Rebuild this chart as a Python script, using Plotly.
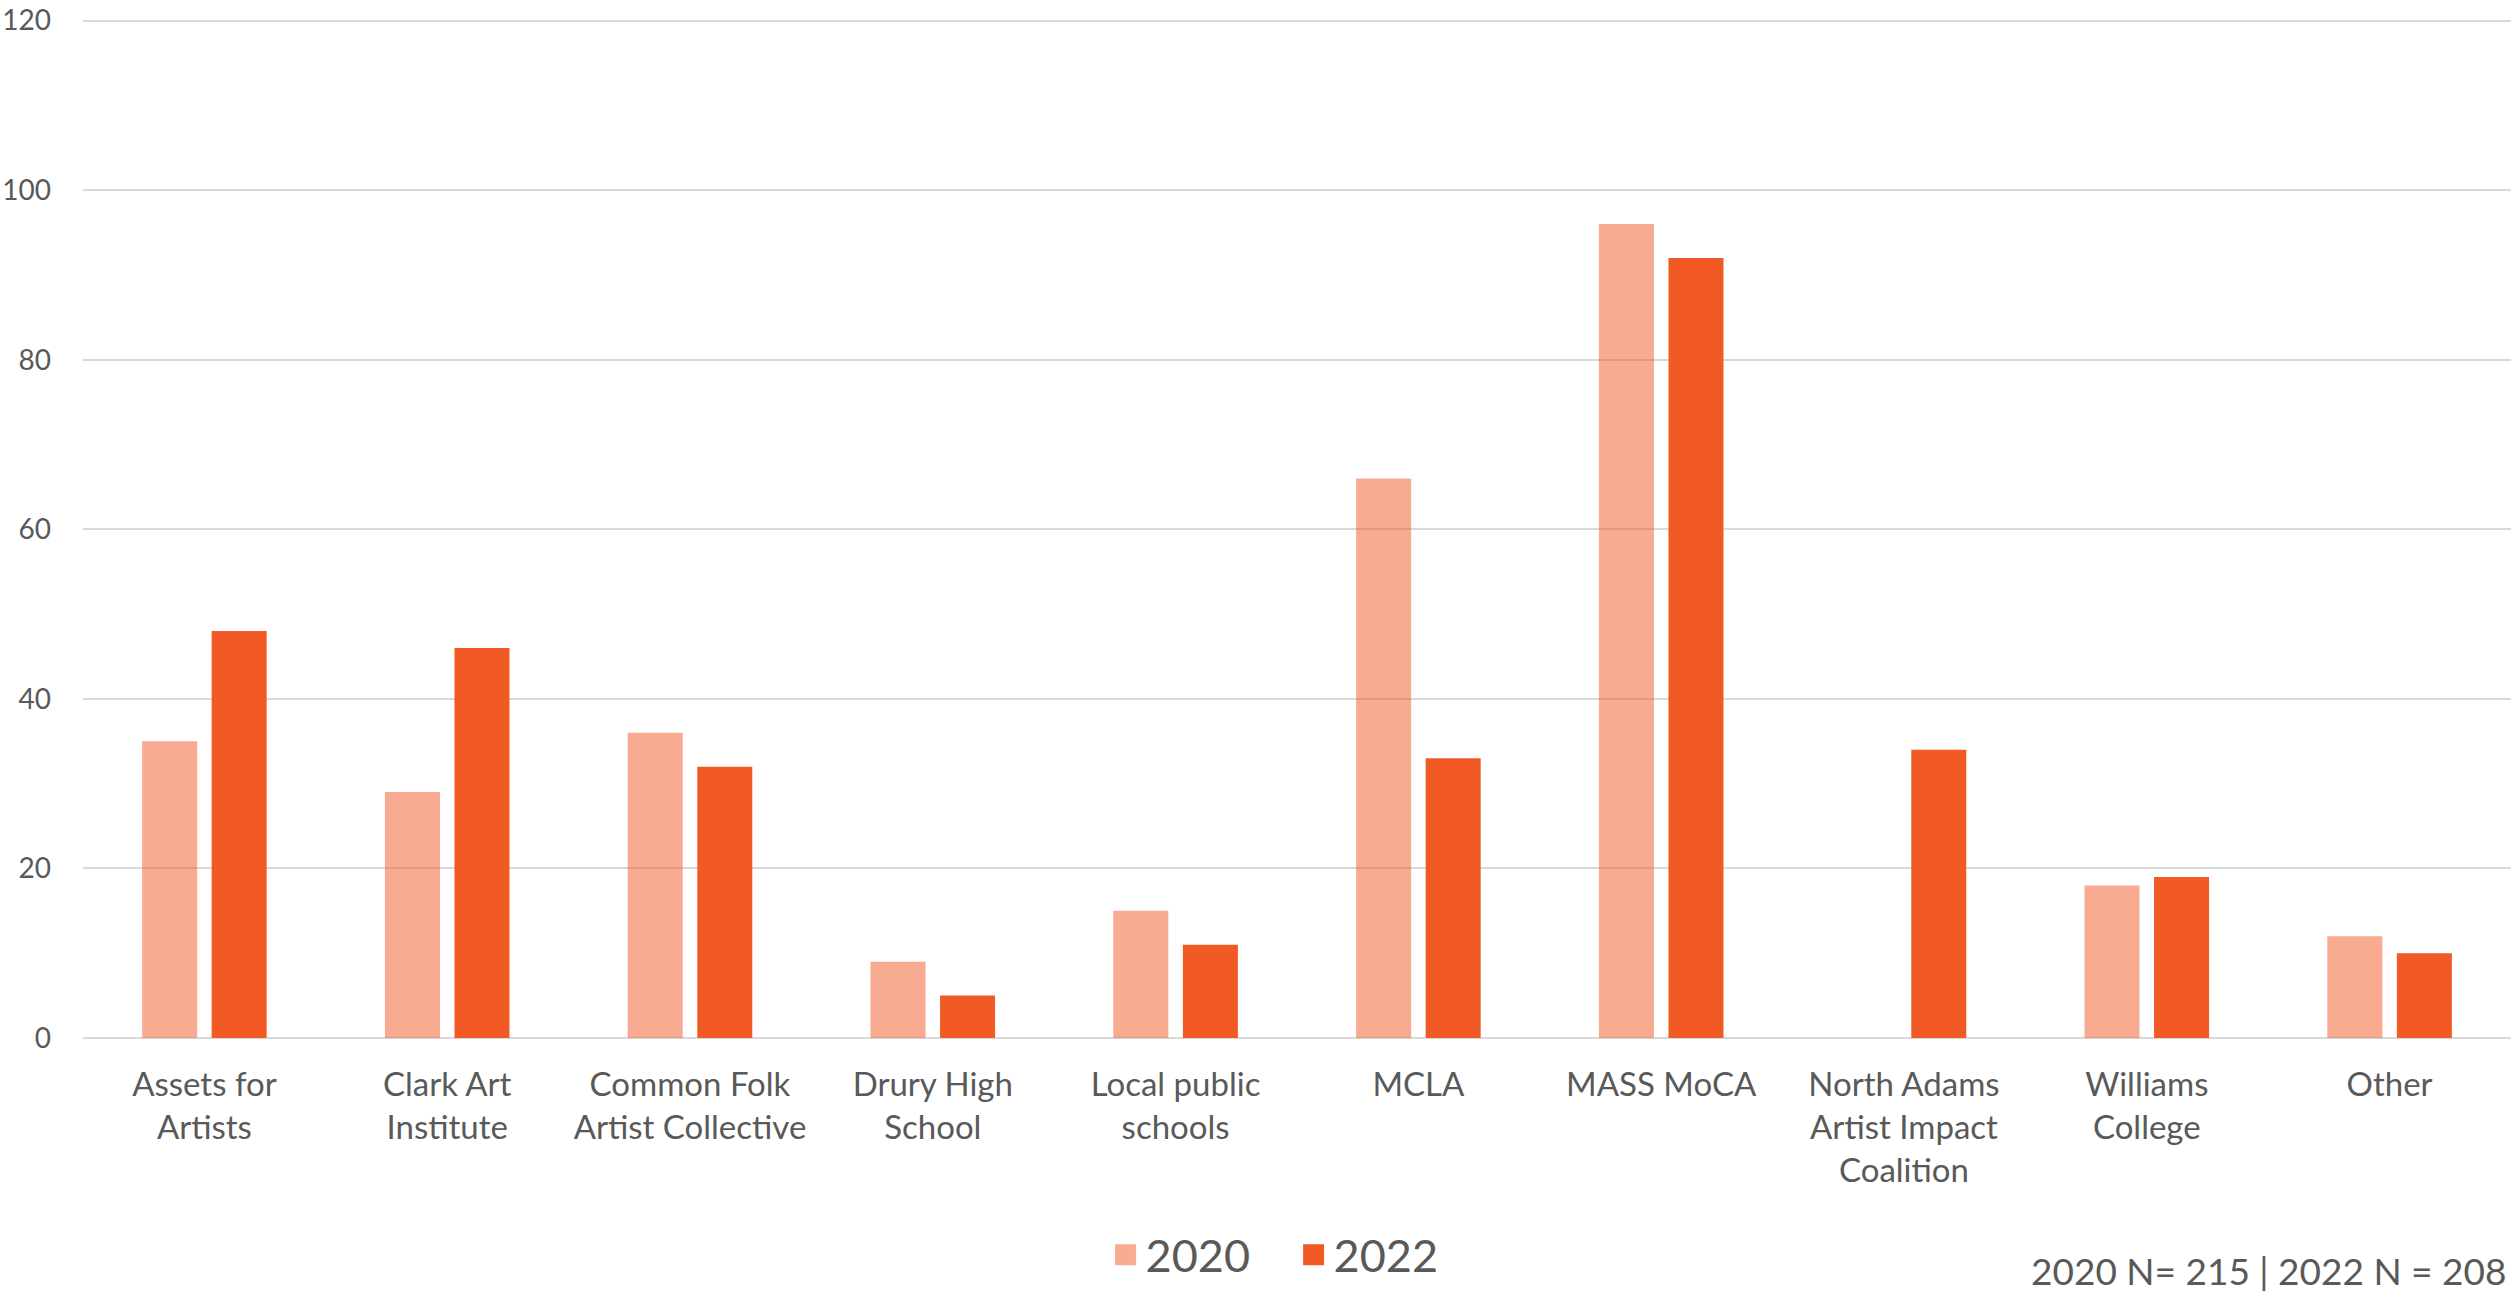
import plotly.graph_objects as go

categories = [
    "Assets for<br>Artists",
    "Clark Art<br>Institute",
    "Common Folk<br>Artist Collective",
    "Drury High<br>School",
    "Local public<br>schools",
    "MCLA",
    "MASS MoCA",
    "North Adams<br>Artist Impact<br>Coalition",
    "Williams<br>College",
    "Other",
]
values_2020 = [35, 29, 36, 9, 15, 66, 96, None, 18, 12]
values_2022 = [48, 46, 32, 5, 11, 33, 92, 34, 19, 10]
series_names = ["2020", "2022"]
y_ticks = [0, 20, 40, 60, 80, 100, 120]
note_text = "2020 N= 215 | 2022 N = 208"

COLOR_2020 = "rgba(241,88,36,0.5)"
COLOR_2022 = "#F15A24"
TEXT = "#595959"
GRID = "#D9D9D9"
FONT = "Lato"

fig = go.Figure()
fig.add_trace(go.Bar(x=categories, y=values_2020, name=series_names[0],
                     marker=dict(color=COLOR_2020, line=dict(width=0)), showlegend=False))
fig.add_trace(go.Bar(x=categories, y=values_2022, name=series_names[1],
                     marker=dict(color=COLOR_2022, line=dict(width=0)), showlegend=False))
# legend entries (larger square symbols)
for nm, col in zip(series_names, ["#F8AC91", COLOR_2022]):
    fig.add_trace(go.Scatter(x=[None], y=[None], mode="markers", name=nm,
                             marker=dict(symbol="square", size=16, color=col,
                                         line=dict(color=col, width=5))))

fig.update_layout(
    width=2519, height=1292,
    paper_bgcolor="white", plot_bgcolor="white",
    margin=dict(l=83, r=8, t=18, b=254, autoexpand=False),
    barmode="group", bargap=0.427, bargroupgap=0.209,
    font=dict(family=FONT, color=TEXT, size=32),
    legend=dict(orientation="h", x=0.4986, xanchor="center", y=-0.2127, yanchor="middle",
                font=dict(size=45, color=TEXT), itemsizing="trace",
                itemwidth=30, entrywidth=143, tracegroupgap=0, bgcolor="rgba(0,0,0,0)"),
    showlegend=True,
    annotations=[dict(text=note_text, xref="paper", yref="paper", x=0.9988, y=-0.2275,
                      xanchor="right", yanchor="middle", showarrow=False,
                      font=dict(size=37, color=TEXT, family=FONT))],
)
fig.update_yaxes(range=[0, 120.3], tickvals=y_ticks, showgrid=True, gridcolor=GRID, gridwidth=2,
                 zeroline=True, zerolinecolor=GRID, zerolinewidth=2, showline=False,
                 ticks="", ticklabelstandoff=31, ticklabeloverflow="allow",
                 tickfont=dict(size=28, color=TEXT), fixedrange=True)
fig.update_xaxes(showgrid=False, showline=False, ticks="", ticklabelstandoff=24,
                 tickfont=dict(size=33, color=TEXT), tickangle=0, fixedrange=True)

fig.write_html("out.html", config={"displayModeBar": False},
               post_script="document.body.style.margin='0px';")
